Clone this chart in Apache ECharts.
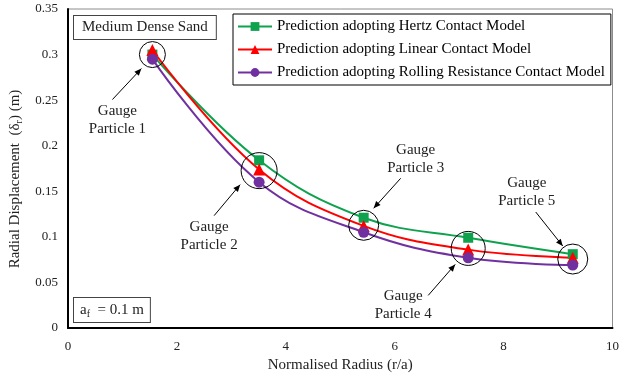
<!DOCTYPE html>
<html>
<head>
<meta charset="utf-8">
<script src="https://cdn.jsdelivr.net/npm/echarts@6/dist/echarts.min.js"></script>
<style>
  html, body { margin: 0; padding: 0; background: #fff; }
  #chart { width: 622px; height: 381px; }
</style>
</head>
<body>
<div id="chart"></div>
<script>
  // normalised radius of the five gauge particles
  var radius = [1.55, 3.51, 5.43, 7.35, 9.27];
  // radial displacement (m)
  var hertz = [0.300, 0.184, 0.121, 0.099, 0.081];
  var linear = [0.305, 0.174, 0.112, 0.086, 0.077];
  var rolling = [0.295, 0.160, 0.105, 0.077, 0.069];
  var gaugeNames = ['Gauge\nParticle 1', 'Gauge\nParticle 2', 'Gauge\nParticle 3', 'Gauge\nParticle 4', 'Gauge\nParticle 5'];

  var font = '"Liberation Serif", "Times New Roman", serif';

  function pairs(ys) {
    return radius.map(function (x, i) { return [x, ys[i]]; });
  }

  var myChart = echarts.init(document.getElementById('chart'));
  myChart.setOption({
    animation: false,
    textStyle: { fontFamily: font },
    grid: {
      left: 68, right: 7, top: 9, bottom: 53,
      show: true, borderColor: '#8c8c8c', borderWidth: 1
    },
    legend: {
      orient: 'vertical',
      left: 233, top: 14,
      padding: [5, 6, 5, 4],
      itemGap: 8,
      itemWidth: 34, itemHeight: 11,
      borderColor: '#000', borderWidth: 1,
      backgroundColor: '#fff',
      textStyle: { fontFamily: font, fontSize: 15, color: '#000' },
      data: ['Prediction adopting Hertz Contact Model', 'Prediction adopting Linear Contact Model', 'Prediction adopting Rolling Resistance Contact Model']
    },
    xAxis: {
      type: 'value', min: 0, max: 10, interval: 2,
      name: 'Normalised Radius (r/a)',
      nameLocation: 'middle', nameGap: 30,
      nameTextStyle: { fontFamily: font, fontSize: 15, color: '#222' },
      axisLine: { lineStyle: { color: '#000', width: 2 } },
      axisTick: { show: false },
      splitLine: { show: false },
      axisLabel: { fontFamily: font, fontSize: 13, color: '#222', margin: 12 }
    },
    yAxis: {
      type: 'value', min: 0, max: 0.35, interval: 0.05,
      axisLine: { show: true, lineStyle: { color: '#000', width: 2 } },
      axisTick: { show: false },
      splitLine: { show: false },
      axisLabel: {
        fontFamily: font, fontSize: 13, color: '#222', margin: 10,
        formatter: function (v) { return String(+v.toFixed(2)); }
      }
    },
    series: [
      {
        name: 'Prediction adopting Hertz Contact Model', type: 'line', smooth: 0.4,
        data: pairs(hertz), symbol: 'rect', symbolSize: 10,
        itemStyle: { color: '#0fa24e' }, lineStyle: { color: '#0fa24e', width: 2 }
      },
      {
        name: 'Prediction adopting Linear Contact Model', type: 'line', smooth: 0.4,
        data: pairs(linear), symbol: 'triangle', symbolSize: 12,
        itemStyle: { color: '#ff0000' }, lineStyle: { color: '#ff0000', width: 2 }
      },
      {
        name: 'Prediction adopting Rolling Resistance Contact Model', type: 'line', smooth: 0.4,
        data: pairs(rolling), symbol: 'circle', symbolSize: 11,
        itemStyle: { color: '#7030a0' }, lineStyle: { color: '#7030a0', width: 2 }
      }
    ]
  });

  // gauge particle annotations: circle radius, text offset, arrow start/end offsets (px from circle centre)
  var notes = [
    { r: 13, tx: -35, ty: 65, ax: [-40, 45], bx: [-11, 14] },
    { r: 18, tx: -50, ty: 65, ax: [-45, 45], bx: [-19, 14] },
    { r: 15, tx: 52, ty: -66, ax: [37, -47], bx: [10, -17] },
    { r: 17, tx: -65, ty: 57, ax: [-40, 47], bx: [-13, 16] },
    { r: 15, tx: -46, ty: -67, ax: [-37, -47], bx: [-10, -13] }
  ];

  var graphics = [];
  radius.forEach(function (x, i) {
    var yMid = (hertz[i] + linear[i] + rolling[i]) / 3;
    var c = myChart.convertToPixel({ gridIndex: 0 }, [x, yMid]);
    var n = notes[i];
    graphics.push({
      type: 'circle', shape: { cx: c[0], cy: c[1], r: n.r },
      style: { fill: 'none', stroke: '#000', lineWidth: 1 }, z: 100
    });
    var x1 = c[0] + n.ax[0], y1 = c[1] + n.ax[1];
    var x2 = c[0] + n.bx[0], y2 = c[1] + n.bx[1];
    graphics.push({
      type: 'line', shape: { x1: x1, y1: y1, x2: x2, y2: y2 },
      style: { stroke: '#000', lineWidth: 1 }, z: 100
    });
    var ang = Math.atan2(y2 - y1, x2 - x1), L = 7, W = 3;
    var bx = x2 - L * Math.cos(ang), by = y2 - L * Math.sin(ang);
    graphics.push({
      type: 'polygon',
      shape: { points: [[x2, y2], [bx - W * Math.sin(ang), by + W * Math.cos(ang)], [bx + W * Math.sin(ang), by - W * Math.cos(ang)]] },
      style: { fill: '#000' }, z: 100
    });
    graphics.push({
      type: 'text', x: c[0] + n.tx, y: c[1] + n.ty, z: 100,
      style: {
        text: gaugeNames[i], fontFamily: font, fontSize: 15, lineHeight: 18,
        fill: '#222', align: 'center', verticalAlign: 'middle'
      }
    });
  });

  // y axis title with subscript
  graphics.push({
    type: 'text', x: 15, y: 179, rotation: Math.PI / 2, z: 100,
    style: {
      text: '{a|Radial Displacement  (δ}{s|r}{a|) (m)}',
      rich: {
        a: { fontFamily: font, fontSize: 15, fill: '#222' },
        s: { fontFamily: font, fontSize: 10, fill: '#222', padding: [8, 0, 0, 0] }
      },
      align: 'center', verticalAlign: 'middle'
    }
  });

  // text boxes
  graphics.push({
    type: 'text', left: 73, top: 15, z: 100,
    style: {
      text: 'Medium Dense Sand', fontFamily: font, fontSize: 15, fill: '#222',
      backgroundColor: '#fff', borderColor: '#444', borderWidth: 1, padding: [4, 8, 4, 8]
    }
  });
  graphics.push({
    type: 'text', left: 73, top: 297, z: 100,
    style: {
      text: '{a|a}{s|f}{a|  = 0.1 m}',
      rich: {
        a: { fontFamily: font, fontSize: 15, fill: '#222' },
        s: { fontFamily: font, fontSize: 10, fill: '#222', padding: [8, 0, 0, 0] }
      },
      backgroundColor: '#fff', borderColor: '#444', borderWidth: 1, padding: [3, 6, 3, 6]
    }
  });

  myChart.setOption({ graphic: graphics });
</script>
</body>
</html>
